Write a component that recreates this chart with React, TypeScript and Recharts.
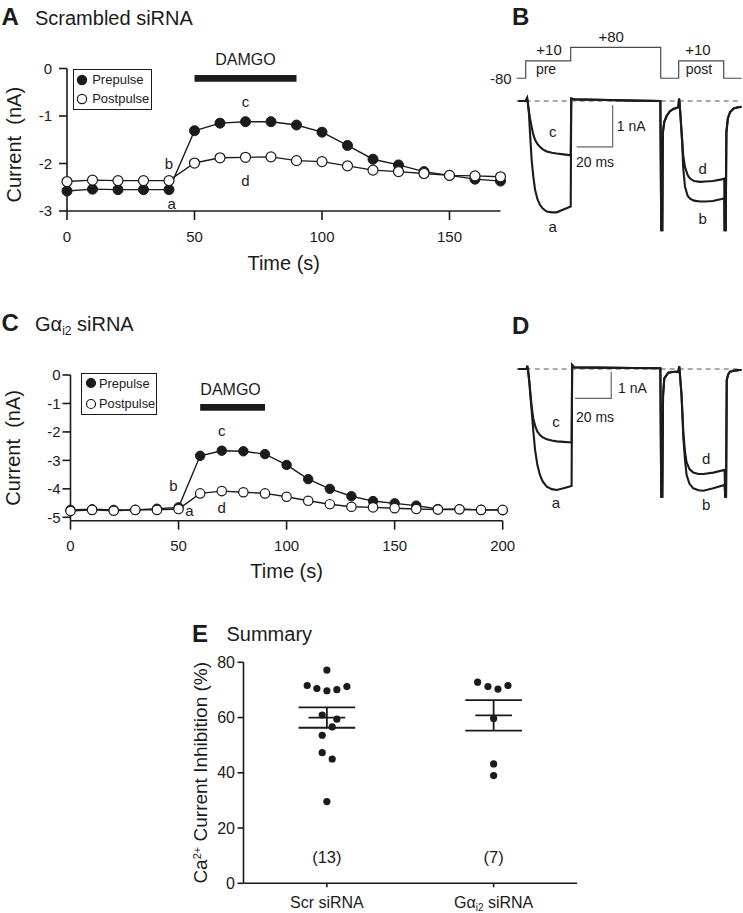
import React from 'react';
import {
  LineChart, Line, XAxis, YAxis, ReferenceArea, ReferenceDot, ReferenceLine,
  Legend, ScatterChart, Scatter,
} from 'recharts';

const FONT = '"Liberation Sans", Arial, Helvetica, sans-serif';
const INK = '#1b1b1b';

// ---------------- Panel A: Scrambled siRNA time course ----------------
const timeA = [0, 10, 20, 30, 40, 50, 60, 70, 80, 90, 100, 110, 120, 130, 140, 150, 160, 170];
const prepulseA = [-2.58, -2.54, -2.55, -2.55, -2.55, -1.31, -1.15, -1.12, -1.12, -1.19, -1.34, -1.62, -1.91, -2.03, -2.17, -2.25, -2.33, -2.37];
const postpulseA = [-2.38, -2.35, -2.36, -2.36, -2.36, -1.99, -1.88, -1.87, -1.86, -1.94, -1.96, -2.05, -2.14, -2.17, -2.21, -2.25, -2.26, -2.28];
const xTicksA = [0, 50, 100, 150];
const yTicksA = [-3, -2, -1, 0];
const damgoA = [50, 90];

// ---------------- Panel C: Gai2 siRNA time course ----------------
const timeC = [0, 10, 20, 30, 40, 50, 60, 70, 80, 90, 100, 110, 120, 130, 140, 150, 160, 170, 180, 190, 200];
const prepulseC = [-4.74, -4.72, -4.74, -4.74, -4.70, -4.65, -2.84, -2.66, -2.68, -2.78, -3.16, -3.66, -4.0, -4.26, -4.43, -4.51, -4.59, -4.71, -4.72, -4.74, -4.75];
const postpulseC = [-4.78, -4.74, -4.77, -4.74, -4.74, -4.71, -4.16, -4.08, -4.12, -4.16, -4.28, -4.42, -4.54, -4.63, -4.65, -4.68, -4.71, -4.73, -4.72, -4.74, -4.74];
const xTicksC = [0, 50, 100, 150, 200];
const yTicksC = [-5, -4, -3, -2, -1, 0];
const damgoC = [60, 90];

const seriesNames = ['Prepulse', 'Postpulse'];

// ---------------- Panel B: voltage protocol + traces (ms, mV / nA) ----------------
const protoT = [0, 5, 5, 30, 30, 80, 80, 90, 90, 115, 115, 125];
const protoV = [-80, -80, 10, 10, 80, 80, -80, -80, 10, 10, -80, -80];

const preT_B = [1, 5, 5.8, 6.2, 6.8, 7.4, 8.3, 9.2, 10.2, 11.5, 12.9, 14.5, 16.7, 19.5, 22.2, 26, 30];
const traceA_B = [0, 0, 0.07, -0.05, -0.3, -0.77, -1.41, -1.8, -2.13, -2.35, -2.49, -2.58, -2.65, -2.67, -2.67, -2.6, -2.53];
const traceC_B = [0, 0, 0.07, -0.05, -0.25, -0.42, -0.62, -0.8, -0.93, -1.03, -1.1, -1.16, -1.21, -1.24, -1.26, -1.28, -1.3];
const midT_B = [30.3, 32, 45, 65, 79.8, 80.3, 80.9, 81.2, 82, 83.3, 85, 87, 89.8, 90.2, 90.5];
const mid_B = [0.06, 0.04, 0.03, 0.01, 0, -3.1, -3.1, -0.75, -0.5, -0.36, -0.25, -0.19, -0.15, 0.06, -0.05];
const postT_B = [90.9, 91.4, 91.9, 92.5, 93.5, 95, 96.3, 98.5, 101.8, 105, 109, 113.9, 115.3];
const traceB_B = [-0.3, -0.65, -1.0, -1.6, -2.06, -2.28, -2.34, -2.39, -2.41, -2.41, -2.4, -2.35, -2.33];
const traceD_B = [-0.3, -0.6, -0.9, -1.3, -1.58, -1.78, -1.86, -1.92, -1.94, -1.93, -1.92, -1.88, -1.86];
const tailT_B = [115.5, 116.1, 116.5, 117.3, 118.5, 120.5, 123, 125];
const tail_B = [-3.1, -3.1, -0.75, -0.42, -0.27, -0.18, -0.15, -0.14];
const scaleT_B = [33.3, 53.3, 53.3];
const scaleV_B = [-1.1, -1.1, -0.1];

// ---------------- Panel D: traces ----------------
const preT_D = [1, 5.5, 5.9, 6.4, 7.0, 7.6, 8.3, 9.2, 10.2, 11.5, 12.9, 14.5, 16.7, 19.5, 22.2, 26, 30.5];
const traceA_D = [0, 0, 0.12, -0.1, -0.5, -1.0, -1.54, -2.3, -3.03, -3.6, -3.97, -4.22, -4.41, -4.5, -4.53, -4.47, -4.38];
const traceC_D = [0, 0, 0.12, -0.1, -0.45, -0.9, -1.4, -1.85, -2.12, -2.35, -2.47, -2.56, -2.63, -2.68, -2.71, -2.73, -2.75];
const midT_D = [30.8, 32, 45, 65, 79.8, 80.3, 80.9, 81.3, 82, 84.2, 86.5, 89.8, 90.3];
const mid_D = [0.15, 0.06, 0.05, 0.04, 0.03, -4.78, -4.78, -1.0, -0.35, -0.14, -0.11, -0.1, 0.1];
const postT_D = [90.8, 91.6, 92.6, 93.5, 94.4, 96, 98.1, 101, 103.7, 109.2, 115.5];
const traceB_D = [-0.3, -1.0, -2.6, -3.4, -3.97, -4.3, -4.47, -4.54, -4.56, -4.47, -4.34];
const traceD_D = [-0.3, -1.0, -2.4, -3.1, -3.5, -3.75, -3.88, -3.93, -3.93, -3.88, -3.78];
const tailT_D = [115.8, 116.3, 116.7, 117.5, 118.5, 121, 124, 125];
const tail_D = [-4.78, -4.78, -0.41, -0.2, -0.1, -0.06, -0.04, -0.04];
const scaleT_D = [32.5, 52.5, 52.5];
const scaleV_D = [-1.1, -1.1, -0.1];

// ---------------- Panel E: summary ----------------
const eCategories = ['Scr siRNA', 'Gαi2 siRNA'];
const eCenters = [0.5, 1.5];
const scrX = [0.5, 0.382, 0.44, 0.5, 0.56, 0.62, 0.472, 0.56, 0.532, 0.472, 0.472, 0.532, 0.5];
const scrY = [77.2, 71.6, 70.5, 69.7, 70.1, 71.2, 60.9, 59.4, 56.6, 53.6, 47.3, 45.0, 29.6];
const gaiX = [1.404, 1.466, 1.526, 1.586, 1.5, 1.5, 1.5];
const gaiY = [72.8, 71.2, 70.3, 71.6, 59.7, 43.2, 39.0];
const eMeans = [60.0, 60.8];
const eSems = [3.7, 5.5];
const eCounts = ['(13)', '(7)'];
const eYTicks = [0, 20, 40, 60, 80];

// ---------------- helpers ----------------
const zip = (ts: number[], vs: number[]) => ts.map((t, i) => ({ t, v: vs[i] }));
const axisStyle = { stroke: INK, strokeWidth: 1.6 };
const tickFont = { fill: INK, fontSize: 15, fontFamily: FONT };

const txt = (value: React.ReactNode, dx = 0, dy = 0, size = 15, anchor: 'middle' | 'start' | 'end' = 'middle') =>
  (p: any) => {
    const vb = p.viewBox ?? {};
    const cx = (vb.x ?? 0) + (vb.width ?? 0) / 2;
    const cy = (vb.y ?? 0) + (vb.height ?? 0) / 2;
    return (
      <text x={cx + dx} y={cy + dy} textAnchor={anchor} dominantBaseline="central"
        fontSize={size} fontFamily={FONT} fill={INK}>{value}</text>
    );
  };

const xTitle = (text: string, baseline: number) => (p: any) => {
  const vb = p.viewBox ?? {};
  return (
    <text x={(vb.x ?? 0) + (vb.width ?? 0) / 2} y={(vb.y ?? 0) + baseline} textAnchor="middle"
      fontSize={20} fontFamily={FONT} fill={INK}>{text}</text>
  );
};

const yTitle = (content: React.ReactNode, cxOff: number, cyOff: number, size: number) => (p: any) => {
  const vb = p.viewBox ?? {};
  const x = (vb.x ?? 0) + cxOff;
  const y = (vb.y ?? 0) + (vb.height ?? 0) / 2 + cyOff;
  // baseline sits 0.35em to the right of the centre line (rotated frame)
  const bx = x + size * 0.35;
  return (
    <text x={bx} y={y} transform={`rotate(-90 ${bx} ${y})`} textAnchor="middle"
      fontSize={size} fontFamily={FONT} fill={INK}>{content}</text>
  );
};

type LegendBox = { w: number; h: number; cx: number; tx: number; r1: number; r2: number; fs: number; r: number };
const makeLegend = (b: LegendBox) => () => (
  <div style={{
    position: 'relative', width: b.w, height: b.h, border: `1.5px solid ${INK}`, boxSizing: 'border-box',
    background: '#fff', fontFamily: FONT, fontSize: b.fs, color: INK,
  }}>
    {seriesNames.map((name, i) => {
      const cy = i === 0 ? b.r1 : b.r2;
      return (
        <React.Fragment key={name}>
          <svg width={14} height={14} style={{ position: 'absolute', left: b.cx - 7 - 1.5, top: cy - 7 - 1.5, overflow: 'visible' }}>
            <circle cx={7} cy={7} r={b.r} fill={i === 0 ? INK : '#fff'} stroke={INK} strokeWidth={1.2} />
          </svg>
          <div style={{ position: 'absolute', left: b.tx - 1.5, top: cy - 10 - 1.5, height: 20, lineHeight: '20px', whiteSpace: 'nowrap' }}>{name}</div>
        </React.Fragment>
      );
    })}
  </div>
);

const filledDot = (r: number) => ({ r, fill: INK, stroke: INK, strokeWidth: 1 });
const openDot = (r: number) => ({ r, fill: '#fff', stroke: INK, strokeWidth: 1.2 });

// ---------------- Panels ----------------
function PanelA() {
  const rows = timeA.map((t, i) => ({ t, pre: prepulseA[i], post: postpulseA[i] }));
  return (
    <div style={{ position: 'absolute', left: 0, top: 0 }}>
      <LineChart width={510} height={280} data={rows} margin={{ top: 68.5, right: 9.5, bottom: 0, left: 0 }}>
        <XAxis dataKey="t" type="number" domain={[0, 170]} ticks={xTicksA} interval={0} height={69}
          tickSize={9} tickMargin={11.7} axisLine={axisStyle} tickLine={axisStyle} tick={tickFont}
          label={xTitle('Time (s)', 59)} />
        <YAxis type="number" domain={[-3, 0]} ticks={yTicksA} interval={0} width={67}
          tickSize={8} tickMargin={7} axisLine={axisStyle} tickLine={axisStyle} tick={tickFont}
          label={yTitle('Current\u00A0 (nA)', 14, 5, 20)} />
        <ReferenceArea x1={damgoA[0]} x2={damgoA[1]} y1={-0.278} y2={-0.137} fill={INK} fillOpacity={1}
          stroke="none" ifOverflow="visible" label={txt('DAMGO', 0, -19.3, 16)} />
        <Line dataKey="pre" name={seriesNames[0]} stroke={INK} strokeWidth={1.4} dot={filledDot(5)} isAnimationActive={false} />
        <Line dataKey="post" name={seriesNames[1]} stroke={INK} strokeWidth={1.4} dot={openDot(5)} isAnimationActive={false} />
        <ReferenceDot x={timeA[7]} y={prepulseA[7]} r={1} fill="none" stroke="none" label={txt('c', 0, -20.3)} />
        <ReferenceDot x={timeA[7]} y={postpulseA[7]} r={1} fill="none" stroke="none" label={txt('d', 0, 22.7)} />
        <ReferenceDot x={timeA[4]} y={postpulseA[4]} r={1} fill="none" stroke="none" label={txt('b', 0, -17)} />
        <ReferenceDot x={timeA[4]} y={prepulseA[4]} r={1} fill="none" stroke="none" label={txt('a', 2.7, 14.1)} />
        <Legend layout="horizontal" verticalAlign="middle" align="center"
          content={makeLegend({ w: 78.4, h: 41, cx: 9.4, tx: 19.4, r1: 11, r2: 30.3, fs: 13, r: 4.6 })}
          wrapperStyle={{ left: 73.3, top: 69, width: 'auto', lineHeight: 'normal' }} />
      </LineChart>
    </div>
  );
}

function PanelC() {
  const rows = timeC.map((t, i) => ({ t, pre: prepulseC[i], post: postpulseC[i] }));
  return (
    <div style={{ position: 'absolute', left: 0, top: 300 }}>
      <LineChart width={520} height={290} data={rows} margin={{ top: 75, right: 17.3, bottom: 0, left: 0 }}>
        <XAxis dataKey="t" type="number" domain={[0, 200]} ticks={xTicksC} interval={0} height={69.3}
          tickSize={9} tickMargin={10.3} axisLine={axisStyle} tickLine={axisStyle} tick={tickFont}
          label={xTitle('Time (s)', 57.3)} />
        <YAxis type="number" domain={[-5.12, 0]} ticks={yTicksC} interval={0} width={70.5}
          tickSize={8} tickMargin={2} axisLine={axisStyle} tickLine={axisStyle} tick={tickFont}
          label={yTitle('Current\u00A0 (nA)', 13, 0, 20)} />
        <ReferenceArea x1={damgoC[0]} x2={damgoC[1]} y1={-1.254} y2={-1.02} fill={INK} fillOpacity={1}
          stroke="none" ifOverflow="visible" label={txt('DAMGO', -2, -18, 16)} />
        <Line dataKey="pre" name={seriesNames[0]} stroke={INK} strokeWidth={1.4} dot={filledDot(4.7)} isAnimationActive={false} />
        <Line dataKey="post" name={seriesNames[1]} stroke={INK} strokeWidth={1.4} dot={openDot(4.7)} isAnimationActive={false} />
        <ReferenceDot x={timeC[7]} y={prepulseC[7]} r={1} fill="none" stroke="none" label={txt('c', 0, -20)} />
        <ReferenceDot x={timeC[7]} y={postpulseC[7]} r={1} fill="none" stroke="none" label={txt('d', 0, 16)} />
        <ReferenceDot x={timeC[5]} y={prepulseC[5]} r={1} fill="none" stroke="none" label={txt('b', -5.2, -22)} />
        <ReferenceDot x={timeC[5]} y={postpulseC[5]} r={1} fill="none" stroke="none" label={txt('a', 10.8, 1.1)} />
        <Legend layout="horizontal" verticalAlign="middle" align="center"
          content={makeLegend({ w: 75.7, h: 41.7, cx: 10, tx: 18.5, r1: 10.7, r2: 31, fs: 12.8, r: 4.5 })}
          wrapperStyle={{ left: 81, top: 73.3, width: 'auto', lineHeight: 'normal' }} />
      </LineChart>
    </div>
  );
}

function Protocol() {
  const data = zip(protoT, protoV);
  const labels = [
    { t: 0, v: -80, text: '-80', dx: -5, dy: 0, anchor: 'end' as const, size: 15 },
    { t: 18, v: 10, text: '+10', dx: 0, dy: -10.9, anchor: 'middle' as const, size: 15 },
    { t: 16.3, v: 10, text: 'pre', dx: 0, dy: 8.5, anchor: 'middle' as const, size: 14 },
    { t: 52.5, v: 80, text: '+80', dx: 0, dy: -11.3, anchor: 'middle' as const, size: 15 },
    { t: 100.7, v: 10, text: '+10', dx: 0, dy: -10.9, anchor: 'middle' as const, size: 15 },
    { t: 101.3, v: 10, text: 'post', dx: 0, dy: 8.5, anchor: 'middle' as const, size: 14 },
  ];
  return (
    <div style={{ position: 'absolute', left: 470, top: 20 }}>
      <LineChart width={273} height={70} margin={{ top: 25.4, right: 1.3, bottom: 9.8, left: 46.7 }}>
        <XAxis dataKey="t" type="number" domain={[0, 125]} hide />
        <YAxis type="number" domain={[-90, 90]} hide />
        <Line data={data} dataKey="v" stroke="#4a4a4a" strokeWidth={1.2} dot={false} isAnimationActive={false} />
        {labels.map((l, i) => (
          <ReferenceDot key={i} x={l.t} y={l.v} r={1} fill="none" stroke="none"
            label={txt(l.text, l.dx, l.dy, l.size, l.anchor)} />
        ))}
      </LineChart>
    </div>
  );
}

type TraceSet = {
  top: number; height: number; domain: [number, number]; marginTop: number; marginBottom: number;
  sweep1: { t: number; v: number }[]; sweep2: { t: number; v: number }[]; scale: { t: number; v: number }[];
  labels: { t: number; v: number; text: string; anchor?: 'middle' | 'start'; size?: number }[];
};

function Traces({ s }: { s: TraceSet }) {
  return (
    <div style={{ position: 'absolute', left: 470, top: s.top }}>
      <LineChart width={273} height={s.height} margin={{ top: s.marginTop, right: 1.3, bottom: s.marginBottom, left: 46.7 }}>
        <XAxis dataKey="t" type="number" domain={[0, 125]} hide allowDataOverflow />
        <YAxis type="number" domain={s.domain} hide allowDataOverflow />
        <ReferenceLine y={0} stroke="#555" strokeWidth={1.2} strokeDasharray="5 4" />
        <Line data={s.scale} dataKey="v" stroke="#666" strokeWidth={1.2} dot={false} isAnimationActive={false} />
        <Line data={s.sweep1} dataKey="v" stroke={INK} strokeWidth={2.1} dot={false} isAnimationActive={false} />
        <Line data={s.sweep2} dataKey="v" stroke={INK} strokeWidth={2.1} dot={false} isAnimationActive={false} />
        {s.labels.map((l, i) => (
          <ReferenceDot key={i} x={l.t} y={l.v} r={1} fill="none" stroke="none"
            label={txt(l.text, 0, 0, l.size ?? 15, l.anchor ?? 'middle')} />
        ))}
      </LineChart>
    </div>
  );
}

const traceSetB: TraceSet = {
  top: 80, height: 170, domain: [-3.3, 0.3], marginTop: 8.5, marginBottom: 11.4,
  sweep1: [...zip(preT_B, traceA_B), ...zip(midT_B, mid_B), ...zip(postT_B, traceB_B), ...zip(tailT_B, tail_B)],
  sweep2: [...zip(preT_B, traceC_B), ...zip(midT_B, mid_B), ...zip(postT_B, traceD_B), ...zip(tailT_B, tail_B)],
  scale: zip(scaleT_B, scaleV_B),
  labels: [
    { t: 20, v: -0.729, text: 'c' }, { t: 20, v: -3.02, text: 'a' },
    { t: 103.3, v: -1.61, text: 'd' }, { t: 103.3, v: -2.81, text: 'b' },
    { t: 55.56, v: -0.6, text: '1 nA', anchor: 'start', size: 14 },
    { t: 43.5, v: -1.46, text: '20 ms', size: 14 },
  ],
};

const traceSetD: TraceSet = {
  top: 340, height: 180, domain: [-5.4, 0.5], marginTop: 15.65, marginBottom: 6.82,
  sweep1: [...zip(preT_D, traceA_D), ...zip(midT_D, mid_D), ...zip(postT_D, traceB_D), ...zip(tailT_D, tail_D)],
  sweep2: [...zip(preT_D, traceC_D), ...zip(midT_D, mid_D), ...zip(postT_D, traceD_D), ...zip(tailT_D, tail_D)],
  scale: zip(scaleT_D, scaleV_D),
  labels: [
    { t: 21.8, v: -1.985, text: 'c' }, { t: 21.8, v: -5.007, text: 'a' },
    { t: 105.2, v: -3.34, text: 'd' }, { t: 105.2, v: -5.06, text: 'b' },
    { t: 56.3, v: -0.71, text: '1 nA', anchor: 'start', size: 14 },
    { t: 43.5, v: -1.79, text: '20 ms', size: 14 },
  ],
};

const ETick = (p: any) => {
  const { x, y, payload } = p;
  const i = eCenters.indexOf(payload.value);
  const isGai = i === 1;
  return (
    <text x={x} y={y} dy="0.71em" textAnchor="middle" fontSize={16} fontFamily={FONT} fill={INK}>
      {isGai ? (
        <>
          <tspan>Gα</tspan>
          <tspan fontSize={10} dy={3}>i2</tspan>
          <tspan dy={-3}>{'\u00A0siRNA'}</tspan>
        </>
      ) : eCategories[0]}
    </text>
  );
};

const dotShape = (p: any) => <circle cx={p.cx} cy={p.cy} r={3.6} fill={INK} />;

function PanelE() {
  const scrRows = scrX.map((x, i) => ({ x, y: scrY[i] }));
  const gaiRows = gaiX.map((x, i) => ({ x, y: gaiY[i] }));
  const meanHalf = 0.11;
  const semHalf = 0.17;
  return (
    <div style={{ position: 'absolute', left: 180, top: 640 }}>
      <ScatterChart width={410} height={273} margin={{ top: 22.3, right: 13, bottom: 0, left: 0 }}>
        <XAxis type="number" dataKey="x" domain={[0, 2]} ticks={eCenters} interval={0} height={29.7}
          tickSize={4} tickMargin={9.5} axisLine={axisStyle} tickLine={axisStyle} tick={<ETick />} />
        <YAxis type="number" dataKey="y" domain={[0, 80]} ticks={eYTicks} interval={0} width={63.5}
          tickSize={6} tickMargin={2.5} axisLine={axisStyle} tickLine={axisStyle} tick={{ ...tickFont, fontSize: 16 }}
          label={yTitle(
            <>
              <tspan>Ca</tspan>
              <tspan fontSize={11} dy={-6}>2+</tspan>
              <tspan dy={6}>{'\u00A0Current Inhibition (%)'}</tspan>
            </>, 20, 0, 19)} />
        {eCenters.map((c, i) => (
          <React.Fragment key={i}>
            <ReferenceLine segment={[{ x: c - meanHalf, y: eMeans[i] }, { x: c + meanHalf, y: eMeans[i] }]}
              stroke={INK} strokeWidth={1.8} ifOverflow="visible" />
            <ReferenceLine segment={[{ x: c - semHalf, y: eMeans[i] + eSems[i] }, { x: c + semHalf, y: eMeans[i] + eSems[i] }]}
              stroke={INK} strokeWidth={1.8} ifOverflow="visible" />
            <ReferenceLine segment={[{ x: c - semHalf, y: eMeans[i] - eSems[i] }, { x: c + semHalf, y: eMeans[i] - eSems[i] }]}
              stroke={INK} strokeWidth={1.8} ifOverflow="visible" />
            <ReferenceLine segment={[{ x: c, y: eMeans[i] - eSems[i] }, { x: c, y: eMeans[i] + eSems[i] }]}
              stroke={INK} strokeWidth={1.8} ifOverflow="visible" />
            <ReferenceDot x={c} y={9.6} r={1} fill="none" stroke="none" label={txt(eCounts[i], 0, 0, 16.5)} />
          </React.Fragment>
        ))}
        <Scatter data={scrRows} shape={dotShape} isAnimationActive={false} />
        <Scatter data={gaiRows} shape={dotShape} isAnimationActive={false} />
      </ScatterChart>
    </div>
  );
}

function Titles() {
  const bold = { fontSize: 24, fontWeight: 700 as const, fontFamily: FONT, fill: INK };
  const norm = { fontSize: 20, fontFamily: FONT, fill: INK };
  return (
    <svg width={743} height={913} style={{ position: 'absolute', left: 0, top: 0, pointerEvents: 'none' }}>
      <text x={1.5} y={25} {...bold}>A</text>
      <text x={35} y={25} {...norm}>Scrambled siRNA</text>
      <text x={512} y={25} {...bold}>B</text>
      <text x={1.5} y={331} {...bold}>C</text>
      <text x={35} y={331} {...norm}>
        <tspan>Gα</tspan>
        <tspan fontSize={12} dy={4}>i2</tspan>
        <tspan dy={-4}>{'\u00A0siRNA'}</tspan>
      </text>
      <text x={512} y={334} {...bold}>D</text>
      <text x={192} y={641.7} {...bold}>E</text>
      <text x={226.5} y={641} {...norm}>Summary</text>
    </svg>
  );
}

export default function App() {
  return (
    <div style={{ position: 'absolute', left: 0, top: 0, width: 743, height: 913, background: '#fff', overflow: 'hidden' }}>
      <PanelA />
      <PanelC />
      <Protocol />
      <Traces s={traceSetB} />
      <Traces s={traceSetD} />
      <PanelE />
      <Titles />
    </div>
  );
}
